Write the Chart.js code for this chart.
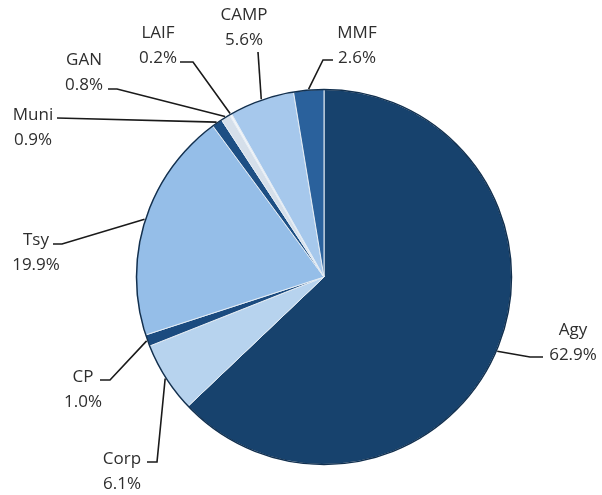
<!DOCTYPE html>
<html>
<head>
<meta charset="utf-8">
<script src="https://cdn.jsdelivr.net/npm/chart.js@4/dist/chart.umd.min.js"></script>
<style>
  html, body { margin: 0; padding: 0; background: #fff; }
  #wrap { width: 602px; height: 495px; position: relative; }
</style>
</head>
<body>
<div id="wrap"><canvas id="chart"></canvas></div>
<script>
const categories = ['Agy', 'Corp', 'CP', 'Tsy', 'Muni', 'GAN', 'LAIF', 'CAMP', 'MMF'];
const shares = [62.9, 6.1, 1.0, 19.9, 0.9, 0.8, 0.2, 5.6, 2.6];
const sliceColors = ['#17426d', '#b7d3ee', '#1b4b7f', '#95bee8', '#1d4f84', '#d5dfea', '#f4f6f8', '#a6c8ec', '#2a619c'];

// where each label sits (text centre, first line) and the bend of its leader line
const labelLayout = [
    { tx: 573, ty: 330, path: [[530, 357], [543, 357]] },
    { tx: 122, ty: 459, path: [[157, 462], [147, 462]] },
    { tx: 83, ty: 377, path: [[110, 380], [100, 380]] },
    { tx: 36, ty: 240, path: [[62, 244], [53, 244]] },
    { tx: 33, ty: 115, path: [[57, 118]] },
    { tx: 84, ty: 60, path: [[117, 89], [108, 89]] },
    { tx: 158, ty: 33, path: [[193, 62], [180, 62]] },
    { tx: 244, ty: 15, path: [[258, 52]] },
    { tx: 357, ty: 33, path: [[323, 60], [333, 60]] }
];

const leaderLabels = {
    id: 'leaderLabels',
    afterDatasetsDraw(chart) {
        const ctx = chart.ctx;
        const arcs = chart.getDatasetMeta(0).data;
        ctx.save();
        // dark outline round the pie
        const a0 = arcs[0];
        ctx.beginPath();
        ctx.arc(a0.x, a0.y, a0.outerRadius, 0, Math.PI * 2);
        ctx.strokeStyle = '#12304f';
        ctx.lineWidth = 1.5;
        ctx.stroke();

        arcs.forEach((arc, i) => {
            const lay = labelLayout[i];
            const mid = (arc.startAngle + arc.endAngle) / 2;
            const r = arc.outerRadius + 1;
            ctx.beginPath();
            ctx.moveTo(arc.x + Math.cos(mid) * r, arc.y + Math.sin(mid) * r);
            lay.path.forEach(p => ctx.lineTo(p[0], p[1]));
            ctx.strokeStyle = '#1a1a1a';
            ctx.lineWidth = 1.6;
            ctx.stroke();

            ctx.fillStyle = '#2e2e2e';
            ctx.font = '17px "Open Sans"';
            ctx.textAlign = 'center';
            ctx.textBaseline = 'middle';
            ctx.fillText(categories[i], lay.tx, lay.ty);
            ctx.fillText(shares[i].toFixed(1) + '%', lay.tx, lay.ty + 25);
        });
        ctx.restore();
    }
};

const ctx = document.getElementById('chart').getContext('2d');
const chart = new Chart(ctx, {
    type: 'pie',
    data: {
        labels: categories,
        datasets: [{
            data: shares,
            backgroundColor: sliceColors,
            borderColor: '#e4ecf4',
            borderWidth: 1
        }]
    },
    options: {
        responsive: true,
        maintainAspectRatio: false,
        animation: false,
        layout: { padding: { top: 89, bottom: 30, left: 46, right: 0 } },
        plugins: {
            legend: { display: false },
            tooltip: { enabled: false }
        }
    },
    plugins: [leaderLabels]
});
</script>
</body>
</html>
